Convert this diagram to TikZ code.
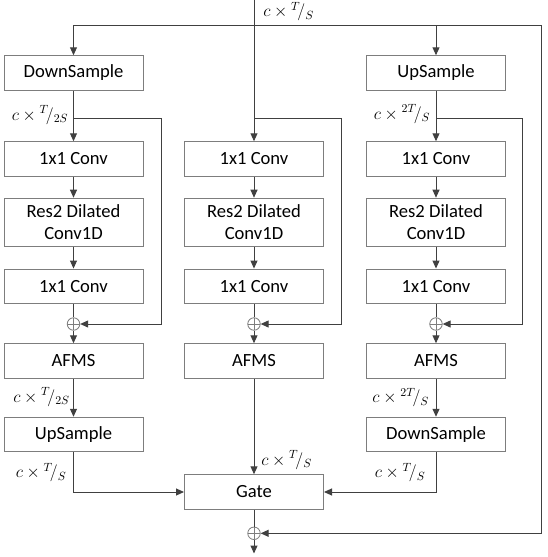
\RequirePackage{fix-cm}
\documentclass[tikz,border=0pt]{standalone}
\usepackage{fontspec}
\setmainfont{Carlito}
\usetikzlibrary{arrows.meta}
\definecolor{linegray}{RGB}{64,64,64}
\definecolor{boxgray}{RGB}{125,125,125}
\begin{document}
\begin{tikzpicture}[x=1pt,y=-1pt,
  box/.style={draw=boxgray, line width=1pt, minimum width=139pt, minimum height=34.5pt, inner sep=0pt, font=\fontsize{18.6}{22}\selectfont, align=center},
  ln/.style={draw=linegray, line width=1pt},
  arr/.style={ln, -{Triangle[width=7pt,length=8pt]}},
  sumnode/.style={circle, draw=boxgray, line width=0.8pt, minimum size=12.5pt, inner sep=0pt,
    path picture={\draw[boxgray, line width=0.8pt] (path picture bounding box.north) -- (path picture bounding box.south)
      (path picture bounding box.west) -- (path picture bounding box.east);}},
  lab/.style={font=\fontsize{17}{20}\selectfont, inner sep=0pt}]
\useasboundingbox (0,0) rectangle (547,557);

% column 1
\node[box] (ds1) at (73.5,73) {DownSample};
\node[box] (c11) at (73.5,159) {1x1 Conv};
\node[box, minimum height=48pt] (r1) at (73.5,222.2) {Res2 Dilated\\Conv1D};
\node[box] (c12) at (73.5,286.3) {1x1 Conv};
\node[sumnode] (p1) at (73.5,324) {};
\node[box] (af1) at (73.5,361) {AFMS};
\node[box] (us1) at (73.5,434.5) {UpSample};

% column 2
\node[box] (c21) at (254,159) {1x1 Conv};
\node[box, minimum height=48pt] (r2) at (254,222.2) {Res2 Dilated\\Conv1D};
\node[box] (c22) at (254,286.3) {1x1 Conv};
\node[sumnode] (p2) at (254,324) {};
\node[box] (af2) at (254,361) {AFMS};
\node[box] (gate) at (254,492) {Gate};
\node[sumnode] (pF) at (254,533.3) {};
\coordinate (out) at (254,553.5);

% column 3
\node[box] (us3) at (436,73) {UpSample};
\node[box] (c31) at (436,159) {1x1 Conv};
\node[box, minimum height=48pt] (r3) at (436,222.2) {Res2 Dilated\\Conv1D};
\node[box] (c32) at (436,286.3) {1x1 Conv};
\node[sumnode] (p3) at (436,324) {};
\node[box] (af3) at (436,361) {AFMS};
\node[box] (ds3) at (436,434.5) {DownSample};

% top distribution
\coordinate (top) at (254,0);
\coordinate (jL) at (73.5,25);
\coordinate (jC) at (436,25);
\coordinate (jR) at (541,25);
\draw[ln] (jL) -- (jR);
\draw[arr] (jL) -- (ds1);
\draw[arr] (jC) -- (us3);
\draw[arr] (top) -- (c21);
\draw[arr] (jR) |- (pF);

% column 1 chain
\draw[arr] (ds1) -- (c11);
\draw[arr] (c11) -- (r1);
\draw[arr] (r1) -- (c12);
\draw[ln] (c12) -- (p1);
\draw[arr] (p1) -- (af1);
\draw[arr] (af1) -- (us1);
\coordinate (t1) at (73.5,118.3);
\coordinate (f1) at (161.7,118.3);
\draw[arr] (t1) -- (f1) |- (p1);

% column 2 chain
\draw[arr] (c21) -- (r2);
\draw[arr] (r2) -- (c22);
\draw[ln] (c22) -- (p2);
\draw[arr] (p2) -- (af2);
\coordinate (t2) at (254,118.3);
\coordinate (f2) at (341.6,118.3);
\draw[arr] (t2) -- (f2) |- (p2);

% column 3 chain
\draw[arr] (us3) -- (c31);
\draw[arr] (c31) -- (r3);
\draw[arr] (r3) -- (c32);
\draw[ln] (c32) -- (p3);
\draw[arr] (p3) -- (af3);
\draw[arr] (af3) -- (ds3);
\coordinate (t3) at (436,118.3);
\coordinate (f3) at (522.7,118.3);
\draw[arr] (t3) -- (f3) |- (p3);

% gate
\draw[arr] (us1) |- (gate);
\draw[arr] (ds3) |- (gate);
\draw[arr] (af2) -- (gate);
\draw[ln] (gate) -- (pF);
\draw[arr] (pF) -- (out);

% labels
\node[lab] (l0) at (288.5,11.5) {$c\times{}^{T}\!/_{S}$};
\node[lab] (l1) at (40,115) {$c\times{}^{T}\!/_{2S}$};
\node[lab] (l2) at (402,114) {$c\times{}^{2T}\!/_{S}$};
\node[lab] (l3) at (41.5,397) {$c\times{}^{T}\!/_{2S}$};
\node[lab] (l4) at (400.7,397.5) {$c\times{}^{2T}\!/_{S}$};
\node[lab] (l5) at (41,472.5) {$c\times{}^{T}\!/_{S}$};
\node[lab] (l6) at (286.5,460) {$c\times{}^{T}\!/_{S}$};
\node[lab] (l7) at (400,472.5) {$c\times{}^{T}\!/_{S}$};
\end{tikzpicture}
\end{document}
